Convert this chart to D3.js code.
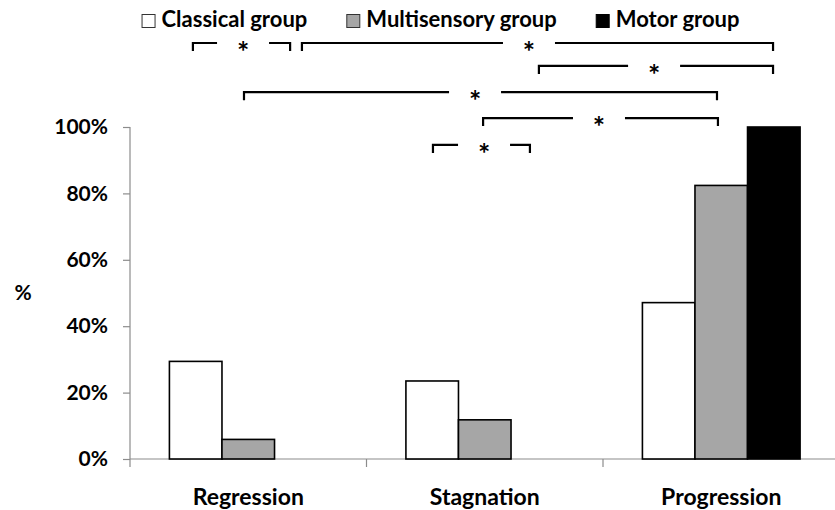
<!DOCTYPE html>
<html>
<head>
<meta charset="utf-8">
<script src="https://cdn.jsdelivr.net/npm/d3@7"></script>
<style>
  html, body { margin: 0; padding: 0; background: #fff; }
  svg text { font-family: Lato, "Open Sans", sans-serif; font-weight: bold; fill: #000; }
</style>
</head>
<body>
<svg id="chart" width="835" height="510"></svg>
<script>
// Outcome categories and groups
const categories = ["Regression", "Stagnation", "Progression"];
const groups = ["Classical group", "Multisensory group", "Motor group"];

// Share of children per outcome (%), one array per group
const classical = [29.4, 23.5, 47.1];
const multisensory = [5.9, 11.8, 82.4];
const motor = [0, 0, 100];

const yTicks = [0, 20, 40, 60, 80, 100];

// Significance brackets: x in category units (0..3), y in percent units
const bracketFrom = [0.266, 0.727, 1.729, 0.482, 1.493, 1.281];
const bracketTo   = [0.677, 2.719, 2.719, 2.482, 2.486, 1.691];
const bracketStar = [0.478, 1.687, 2.216, 1.459, 1.983, 1.497];
const bracketLevel = [125.3, 125.3, 118.4, 110.5, 102.7, 94.6];

const seriesValues = [classical, multisensory, motor];
const fills = ["#ffffff", "#a6a6a6", "#000000"];

const svg = d3.select("#chart");
const plotLeft = 130, plotRight = 839.5, plotTop = 127, plotBottom = 459;

const x = d3.scaleBand().domain(categories).range([plotLeft, plotRight]).paddingInner(0).paddingOuter(0);
const xg = d3.scaleBand().domain(groups).range([0, x.bandwidth()]).paddingInner(0).paddingOuter(0.75);
const y = d3.scaleLinear().domain([0, 100]).range([plotBottom, plotTop]);
const xu = d3.scaleLinear().domain([0, 3]).range([plotLeft, plotRight]);

const axisColor = "#8c8c8c";

// Y axis
const yAxis = svg.append("g")
  .attr("transform", `translate(${plotLeft},0)`)
  .call(d3.axisLeft(y).tickValues(yTicks).tickFormat(d => d + "%").tickSize(7).tickPadding(15));
yAxis.select(".domain").attr("stroke", axisColor).attr("stroke-width", 1.2).attr("d", `M0,${plotTop}V${plotBottom}`);
yAxis.selectAll(".tick line").attr("stroke", axisColor).attr("stroke-width", 1.2);
yAxis.selectAll(".tick text").attr("font-size", 21).attr("font-family", "Lato, sans-serif").attr("font-weight", "bold").attr("fill", "#000");

// X axis with tick marks at category boundaries
const xAxisG = svg.append("g").attr("transform", `translate(0,${plotBottom})`);
xAxisG.append("line").attr("x1", plotLeft).attr("x2", plotRight).attr("y1", 0).attr("y2", 0)
  .attr("stroke", axisColor).attr("stroke-width", 1.2);
const boundaries = d3.range(categories.length + 1).map(i => xu(i));
xAxisG.selectAll("line.bnd").data(boundaries).join("line").attr("class", "bnd")
  .attr("x1", d => d).attr("x2", d => d).attr("y1", 0).attr("y2", 8)
  .attr("stroke", axisColor).attr("stroke-width", 1.2);
xAxisG.selectAll("text.cat").data(categories).join("text").attr("class", "cat")
  .attr("x", d => x(d) + x.bandwidth() / 2).attr("y", 46)
  .attr("text-anchor", "middle").attr("font-size", 23).text(d => d);

// Y axis title
svg.append("text").attr("x", 23).attr("y", y(50)).attr("dy", "0.35em")
  .attr("text-anchor", "middle").attr("font-size", 21).text("%");

// Bars
const barData = [];
groups.forEach((g, gi) => categories.forEach((c, ci) => {
  barData.push({ group: g, gi, category: c, value: seriesValues[gi][ci] });
}));
svg.append("g").selectAll("rect").data(barData.filter(d => d.value > 0)).join("rect")
  .attr("x", d => x(d.category) + xg(d.group))
  .attr("width", xg.bandwidth())
  .attr("y", d => y(d.value))
  .attr("height", d => y(0) - y(d.value))
  .attr("fill", d => fills[d.gi])
  .attr("stroke", "#000").attr("stroke-width", 1.6);

// Significance brackets
const brackets = bracketFrom.map((f, i) => ({ from: f, to: bracketTo[i], star: bracketStar[i], level: bracketLevel[i] }));
const gap = 26, drop = 8;
const bg = svg.append("g").attr("fill", "none").attr("stroke", "#000").attr("stroke-width", 2.2);
brackets.forEach(b => {
  const x1 = xu(b.from), x2 = xu(b.to), xs = xu(b.star), yy = y(b.level);
  bg.append("path").attr("d", `M${x1},${yy + drop}V${yy}H${xs - gap}`);
  bg.append("path").attr("d", `M${xs + gap},${yy}H${x2}V${yy + drop}`);
  svg.append("text").attr("x", xs).attr("y", yy + 19).attr("text-anchor", "middle")
    .attr("font-size", 29).attr("font-weight", "bold").text("*");
});

// Legend
const legend = svg.append("g");
let lx = 0;
groups.forEach((g, i) => {
  const item = legend.append("g").attr("transform", `translate(${lx},0)`);
  item.append("rect").attr("x", 0.5).attr("y", 14.5).attr("width", 13).attr("height", 13)
    .attr("fill", fills[i]).attr("stroke", i === 2 ? "#000" : "#333").attr("stroke-width", 1);
  const t = item.append("text").attr("x", 20).attr("y", 27).attr("font-size", 22).text(g);
  lx += 20 + t.node().getComputedTextLength() + 39;
});
const lw = lx - 39;
legend.attr("transform", `translate(${440.5 - lw / 2},0)`);
</script>
</body>
</html>
